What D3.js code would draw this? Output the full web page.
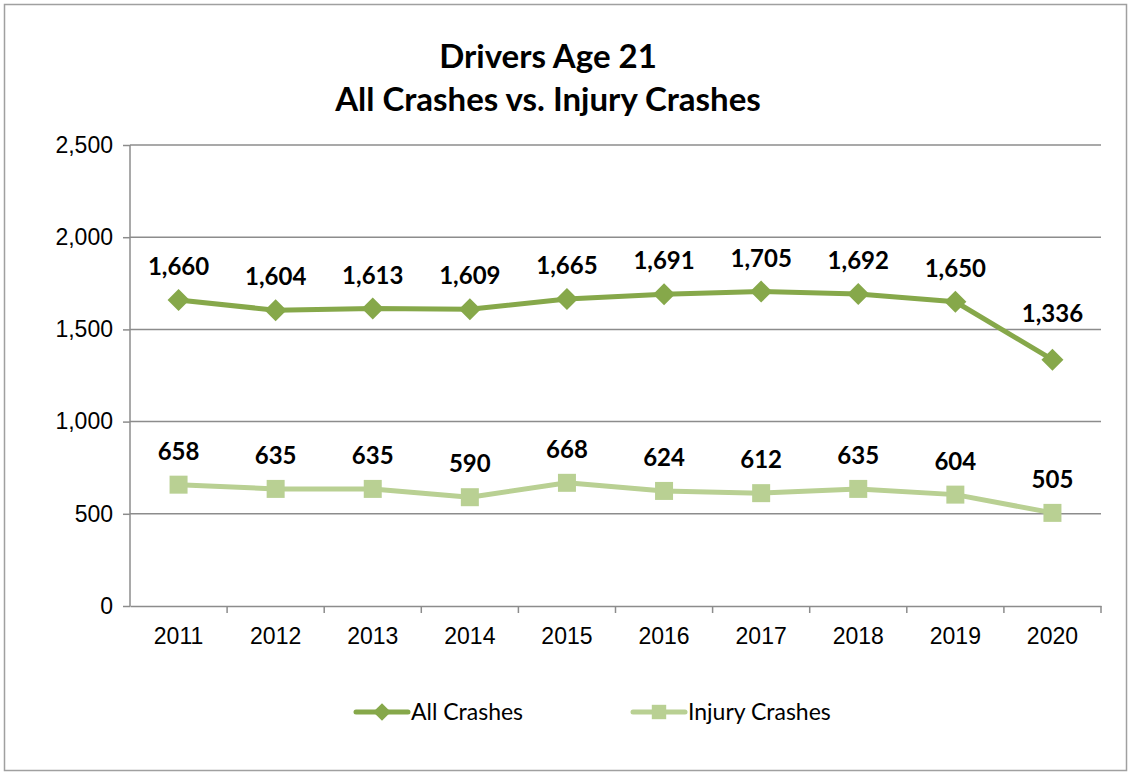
<!DOCTYPE html>
<html>
<head>
<meta charset="utf-8">
<script src="https://cdn.jsdelivr.net/npm/d3@7"></script>
<style>
  body { margin: 0; background: #fff; }
  svg { font-family: Lato, "Open Sans", sans-serif; }
</style>
</head>
<body>
<div id="canvas"></div>
<script>
const years = ["2011","2012","2013","2014","2015","2016","2017","2018","2019","2020"];
const allCrashes = [1660, 1604, 1613, 1609, 1665, 1691, 1705, 1692, 1650, 1336];
const injuryCrashes = [658, 635, 635, 590, 668, 624, 612, 635, 604, 505];
const yTicks = [0, 500, 1000, 1500, 2000, 2500];
const titleLines = ["Drivers Age 21", "All Crashes vs. Injury Crashes"];

const width = 1129;
const height = 772;
const margin = {top: 145, left: 130, bottom: 166, right: 28};
const iwidth = width - margin.left - margin.right;
const iheight = height - margin.top - margin.bottom;

const darkGreen = "#86a84a";
const lightGreen = "#b9d093";

const svg = d3.select("#canvas").append("svg")
  .attr("width", width)
  .attr("height", height);

// outer frame
svg.append("rect")
  .attr("x", 4.5).attr("y", 4.5)
  .attr("width", width - 7).attr("height", height - 6)
  .attr("fill", "none").attr("stroke", "#a0a0a0").attr("stroke-width", 1.5);

// title
svg.append("g").selectAll("text").data(titleLines).enter().append("text")
  .attr("x", 548)
  .attr("y", (d, i) => 68 + i * 43)
  .attr("text-anchor", "middle")
  .attr("font-size", 33)
  .attr("font-weight", "bold")
  .attr("fill", "#000")
  .text(d => d);

const g = svg.append("g").attr("transform", `translate(${margin.left},${margin.top})`);

const x = d3.scaleBand().domain(years).range([0, iwidth]);
const y = d3.scaleLinear().domain([0, 2500]).range([iheight, 0]);
const cx = d => x(d) + x.bandwidth() / 2;

// gridlines
g.append("g").selectAll("line").data(yTicks.filter(t => t > 0)).enter().append("line")
  .attr("x1", 0).attr("x2", iwidth)
  .attr("y1", d => y(d)).attr("y2", d => y(d))
  .attr("stroke", "#8c8c8c").attr("stroke-width", 1.5);

// y axis
const yAxis = g.append("g")
  .call(d3.axisLeft(y).tickValues(yTicks).tickSize(7).tickPadding(10).tickFormat(d3.format(",")));
yAxis.select(".domain").attr("stroke", "#8c8c8c").attr("stroke-width", 1.5).attr("d", `M0,${iheight + 0.5}V0`);
yAxis.selectAll(".tick line").attr("stroke", "#8c8c8c").attr("stroke-width", 1.5);
yAxis.selectAll(".tick text").attr("font-size", 23).attr("fill", "#000");

// x axis with ticks at category boundaries
const xAxis = g.append("g").attr("transform", `translate(0,${iheight})`)
  .call(d3.axisBottom(x).tickSize(0).tickPadding(22));
xAxis.select(".domain").attr("stroke", "#8c8c8c").attr("stroke-width", 1.5);
xAxis.selectAll(".tick text").attr("font-size", 23).attr("fill", "#000");
xAxis.append("g").selectAll("line").data(years).enter().append("line")
  .attr("x1", d => x(d) + x.bandwidth())
  .attr("x2", d => x(d) + x.bandwidth())
  .attr("y1", 0).attr("y2", 7)
  .attr("stroke", "#8c8c8c").attr("stroke-width", 1.5);

const line = d3.line().x((d, i) => cx(years[i])).y(d => y(d));

function drawSeries(values, color, shape, labelLift) {
  g.append("path").datum(values)
    .attr("d", line)
    .attr("fill", "none")
    .attr("stroke", color)
    .attr("stroke-width", 5)
    .attr("stroke-linejoin", "round");
  g.append("g").selectAll("path").data(values).enter().append("path")
    .attr("transform", (d, i) => `translate(${cx(years[i])},${y(d)})`)
    .attr("d", shape)
    .attr("fill", color);
  g.append("g").selectAll("text").data(values).enter().append("text")
    .attr("x", (d, i) => cx(years[i]))
    .attr("y", (d, i) => y(d) - labelLift(i))
    .attr("text-anchor", "middle")
    .attr("font-size", 24)
    .attr("font-weight", "bold")
    .attr("fill", "#000")
    .text(d => d3.format(",")(d));
}

const diamond = "M0,-11L11,0L0,11L-11,0Z";
const square = "M-9,-9H9V9H-9Z";

// last All Crashes label sits higher, as in the original
drawSeries(allCrashes, darkGreen, diamond, i => i === years.length - 1 ? 38 : 25);
drawSeries(injuryCrashes, lightGreen, square, () => 25);

// legend
const legendItems = [
  {name: "All Crashes", color: darkGreen, shape: diamond, x: 356},
  {name: "Injury Crashes", color: lightGreen, shape: square, x: 633}
];
const legend = svg.append("g");
legendItems.forEach(item => {
  const lg = legend.append("g").attr("transform", `translate(${item.x},712)`);
  lg.append("line").attr("x1", 0).attr("x2", 52).attr("y1", 0).attr("y2", 0)
    .attr("stroke", item.color).attr("stroke-width", 5).attr("stroke-linecap", "round");
  lg.append("path").attr("d", item.shape).attr("transform", "translate(26,0) scale(0.8)").attr("fill", item.color);
  lg.append("text").attr("x", 55).attr("y", 8).attr("font-size", 23).attr("fill", "#000").text(item.name);
});
</script>
</body>
</html>
